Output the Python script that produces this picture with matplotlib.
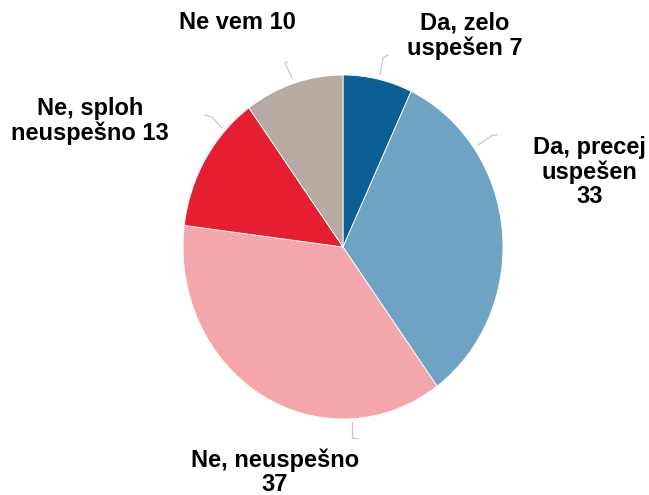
import matplotlib
matplotlib.use("Agg")
import matplotlib.pyplot as plt

# podatki
oznake = ["Da, zelo\nuspešen 7", "Da, precej\nuspešen\n33", "Ne, neuspešno\n37",
          "Ne, sploh\nneuspešno 13", "Ne vem 10"]
vrednosti = [7, 33, 37, 13, 10]
barve = ["#0b5f93", "#6ea3c4", "#f4a7ab", "#e61e32", "#b7aaa3"]

# položaji oznak (v enotah polmera)
poz_oznak = [(0.76, 1.227), (1.54, 0.436), (-0.425, -1.31), (-1.58, 0.733), (-0.66, 1.308)]
# kratke sive povezovalne črte
crte = [
    [(0.231, 1.0), (0.25, 1.099), (0.281, 1.116)],
    [(0.844, 0.593), (0.9375, 0.651), (0.9625, 0.651)],
    [(0.056, -1.017), (0.056, -1.11), (0.0875, -1.11)],
    [(-0.756, 0.692), (-0.819, 0.756), (-0.8625, 0.767)],
    [(-0.319, 0.983), (-0.3625, 1.07), (-0.345, 1.076)],
]

plt.rcParams['font.family'] = ['Liberation Sans', 'DejaVu Sans']

fig = plt.figure(figsize=(6.49, 4.95), dpi=100)
ax = fig.add_axes([0, 0, 1, 1])

ax.pie(vrednosti, colors=barve, startangle=90, counterclock=False,
       wedgeprops=dict(linewidth=0.6, edgecolor="white"))
ax.set_aspect('auto')
ax.set_xlim(-343 / 160, (649 - 343) / 160)
ax.set_ylim(-(495 - 247) / 172, 247 / 172)
ax.axis('off')

for (x, y), t in zip(poz_oznak, oznake):
    ax.text(x, y, t, ha='center', va='center', fontsize=17, fontweight='bold',
            linespacing=1.08, color='black')

for c in crte:
    xs = [p[0] for p in c]
    ys = [p[1] for p in c]
    ax.plot(xs, ys, color='#c8c8c8', linewidth=0.9)

fig.savefig("out.png", dpi=100)
